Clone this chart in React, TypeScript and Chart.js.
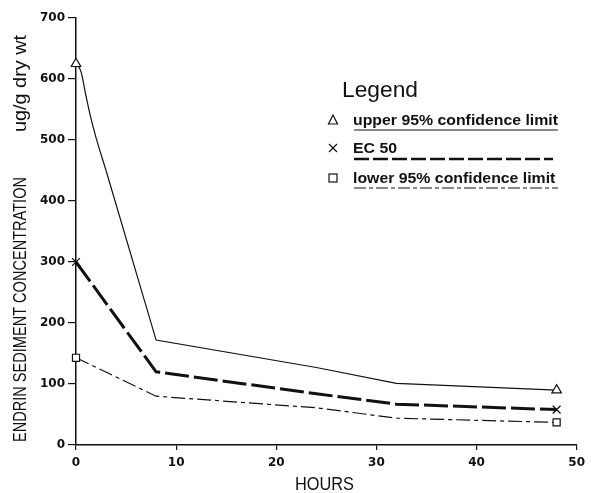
import React, { useEffect, useRef } from 'react';
import { Chart, registerables } from 'chart.js';

Chart.register(...registerables);

// ---- data ----
const upperHours = [0, 0.5, 1, 1.5, 2, 3, 8, 24, 32, 48];
const upperValues = [625, 612, 572, 535, 504, 450, 172, 127, 101, 90];
const ec50Hours = [0, 8, 24, 32, 48];
const ec50Values = [300, 120, 84, 67, 58];
const lowerHours = [0, 8, 24, 32, 48];
const lowerValues = [143, 80, 61, 44, 37];

// index where the smooth early part of the upper limit ends
const upperCurveEnd = 5;

const xMin = 0;
const xMax = 50;
const xStep = 10;
const yMin = 0;
const yMax = 700;
const yStep = 100;

const seriesLabels = ['upper 95% confidence limit', 'EC 50', 'lower 95% confidence limit'];
const legendTitle = 'Legend';
const xTitle = 'HOURS';
const yTitle = 'ENDRIN SEDIMENT CONCENTRATION';
const yUnit = 'ug/g dry wt';

const toPoints = (xs: number[], ys: number[]) => xs.map((x, i) => ({ x, y: ys[i] }));
const endRadius = (n: number, r: number, first = true, last = true) =>
  Array.from({ length: n }, (_, i) => ((first && i === 0) || (last && i === n - 1) ? r : 0));

function fitText(ctx: CanvasRenderingContext2D, text: string, x: number, y: number, width: number) {
  const w = ctx.measureText(text).width;
  const s = width / w;
  ctx.save();
  ctx.translate(x, y);
  ctx.scale(s, 1);
  ctx.fillText(text, 0, 0);
  ctx.restore();
  return s;
}

const decorPlugin = {
  id: 'decor',
  afterDraw(chart: any) {
    const ctx: CanvasRenderingContext2D = chart.ctx;
    ctx.save();
    ctx.fillStyle = '#111';
    ctx.strokeStyle = '#111';
    ctx.textAlign = 'left';
    ctx.textBaseline = 'alphabetic';

    // y-axis titles (rotated)
    ctx.save();
    ctx.translate(26, 442);
    ctx.rotate(-Math.PI / 2);
    ctx.font = '18px "Liberation Sans", Arial, sans-serif';
    fitText(ctx, yTitle, 0, 0, 265);
    ctx.restore();

    ctx.save();
    ctx.translate(26, 132);
    ctx.rotate(-Math.PI / 2);
    ctx.font = '19px "Liberation Sans", Arial, sans-serif';
    fitText(ctx, yUnit, 0, 0, 97);
    ctx.restore();

    // x title
    ctx.font = '18px "Liberation Sans", Arial, sans-serif';
    fitText(ctx, xTitle, 295, 490, 59);

    // legend
    ctx.font = '22px "Liberation Sans", Arial, sans-serif';
    fitText(ctx, legendTitle, 342, 97, 76);

    ctx.font = 'bold 15.5px "Liberation Sans", Arial, sans-serif';
    const tw = ctx.measureText(seriesLabels[0]).width;
    const s = 205 / tw;
    const baselines = [125, 153, 183];
    seriesLabels.forEach((t, i) => {
      ctx.save();
      ctx.translate(353, baselines[i]);
      ctx.scale(s, 1);
      ctx.fillText(t, 0, 0);
      ctx.restore();
    });

    // legend markers
    ctx.lineWidth = 1.2;
    ctx.beginPath();
    ctx.moveTo(333, 115);
    ctx.lineTo(328.5, 124);
    ctx.lineTo(337.5, 124);
    ctx.closePath();
    ctx.stroke();

    ctx.beginPath();
    ctx.moveTo(329, 144);
    ctx.lineTo(337, 152);
    ctx.moveTo(337, 144);
    ctx.lineTo(329, 152);
    ctx.stroke();

    ctx.strokeRect(329, 174, 8, 8);

    // legend line samples
    ctx.lineWidth = 1.2;
    ctx.setLineDash([]);
    ctx.beginPath();
    ctx.moveTo(354, 130);
    ctx.lineTo(558, 130);
    ctx.stroke();

    ctx.lineWidth = 2.6;
    ctx.setLineDash([15, 4]);
    ctx.beginPath();
    ctx.moveTo(354, 159);
    ctx.lineTo(553, 159);
    ctx.stroke();

    ctx.lineWidth = 1.2;
    ctx.setLineDash([12, 3, 4, 3]);
    ctx.beginPath();
    ctx.moveTo(354, 188);
    ctx.lineTo(558, 188);
    ctx.stroke();
    ctx.setLineDash([]);

    ctx.restore();
  },
};

export default function App() {
  const ref = useRef<HTMLCanvasElement | null>(null);

  useEffect(() => {
    if (!ref.current) return;
    const tickFont = { family: '"DejaVu Sans", sans-serif', size: 12, weight: 'bold' as const };
    const upperEarly = toPoints(upperHours.slice(0, upperCurveEnd + 1), upperValues.slice(0, upperCurveEnd + 1));
    const upperLate = toPoints(upperHours.slice(upperCurveEnd), upperValues.slice(upperCurveEnd));
    const chart = new Chart(ref.current, {
      type: 'line',
      data: {
        datasets: [
          {
            label: seriesLabels[0],
            data: upperEarly,
            borderColor: '#111',
            borderWidth: 1.2,
            cubicInterpolationMode: 'monotone',
            clip: false,
            pointStyle: 'triangle',
            pointRadius: endRadius(upperEarly.length, 5.5, true, false),
            pointBackgroundColor: '#fff',
            pointBorderColor: '#111',
            pointBorderWidth: 1.2,
          },
          {
            label: seriesLabels[0],
            data: upperLate,
            borderColor: '#111',
            borderWidth: 1.2,
            tension: 0,
            clip: false,
            pointStyle: 'triangle',
            pointRadius: endRadius(upperLate.length, 5.5, false, true),
            pointBackgroundColor: '#fff',
            pointBorderColor: '#111',
            pointBorderWidth: 1.2,
          },
          {
            label: seriesLabels[1],
            data: toPoints(ec50Hours, ec50Values),
            borderColor: '#111',
            borderWidth: 3,
            borderDash: [24, 5],
            tension: 0,
            clip: false,
            pointStyle: 'crossRot',
            pointRadius: endRadius(ec50Hours.length, 5.5),
            pointBackgroundColor: '#fff',
            pointBorderColor: '#111',
            pointBorderWidth: 1.3,
          },
          {
            label: seriesLabels[2],
            data: toPoints(lowerHours, lowerValues),
            borderColor: '#111',
            borderWidth: 1.2,
            borderDash: [14, 4, 4, 4],
            tension: 0,
            clip: false,
            pointStyle: 'rect',
            pointRadius: endRadius(lowerHours.length, 5),
            pointBackgroundColor: '#fff',
            pointBorderColor: '#111',
            pointBorderWidth: 1.2,
          },
        ],
      },
      options: {
        animation: false,
        responsive: false,
        devicePixelRatio: 1,
        layout: { padding: { top: 18, right: 11, left: 0, bottom: 0 } },
        plugins: { legend: { display: false }, tooltip: { enabled: false } },
        scales: {
          x: {
            type: 'linear',
            min: xMin,
            max: xMax,
            ticks: { stepSize: xStep, color: '#111', font: tickFont, padding: 6 },
            grid: { drawOnChartArea: false, drawTicks: true, tickLength: 5, color: '#111', lineWidth: 1.2 },
            border: { color: '#111', width: 1.5 },
            afterFit: (s: any) => {
              s.height = 48;
            },
          },
          y: {
            type: 'linear',
            min: yMin,
            max: yMax,
            ticks: { stepSize: yStep, color: '#111', font: tickFont, padding: 3 },
            grid: { drawOnChartArea: false, drawTicks: true, tickLength: 8, color: '#111', lineWidth: 1.2 },
            border: { color: '#111', width: 1.5 },
            afterFit: (s: any) => {
              s.width = 76;
            },
          },
        },
      },
      plugins: [decorPlugin],
    });
    return () => chart.destroy();
  }, []);

  return (
    <div style={{ position: 'fixed', left: 0, top: 0, width: 591, height: 493, background: '#fff' }}>
      <canvas ref={ref} width={591} height={493} style={{ display: 'block' }} />
    </div>
  );
}
